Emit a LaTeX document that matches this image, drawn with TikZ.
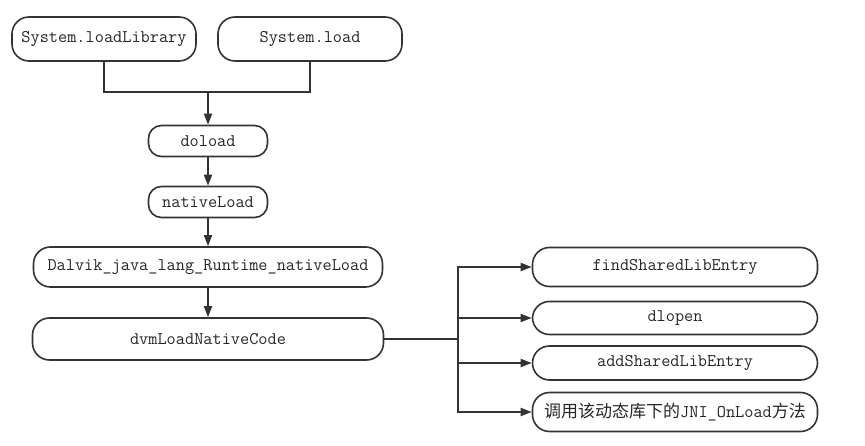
\documentclass[tikz,border=0pt]{standalone}
\usepackage{fontspec}
\newfontfamily\cjk{Noto Sans CJK SC}
\usetikzlibrary{arrows.meta, positioning}

\begin{document}
\begin{tikzpicture}[x=1pt, y=-1pt,
    box/.style={draw=black!80, line width=1.6pt, rounded corners=17pt, inner sep=0pt,
        text=black!85, font=\ttfamily\fontsize{17.8}{19}\selectfont},
    link/.style={draw=black!80, line width=1.8pt},
    arr/.style={link, -{Triangle[length=11pt, width=8pt]}}]
    \useasboundingbox (0,0) rectangle (865,446);

    % callers
    \node[box, minimum width=184pt, minimum height=44pt] (loadlib) at (104,39) {System.loadLibrary};
    \node[box, minimum width=184pt, minimum height=44pt] (load) at (310,39) {System.load};
    \coordinate (join) at (208,92);

    % main chain
    \node[box, minimum width=119pt, minimum height=31pt, rounded corners=13pt] (doload) at (208,141) {doload};
    \node[box, minimum width=119pt, minimum height=31pt, rounded corners=13pt] (natload) at (208,202) {nativeLoad};
    \node[box, minimum width=349pt, minimum height=40pt] (dalvik) at (208,267) {Dalvik\_java\_lang\_Runtime\_nativeLoad};
    \node[box, minimum width=351pt, minimum height=42pt] (dvm) at (208,339) {dvmLoadNativeCode};
    \coordinate (fork) at (458,339);

    % steps of dvmLoadNativeCode
    \foreach \y/\h/\name/\txt in {267/39/findlib/findSharedLibEntry, 318/33/dlopen/dlopen,
        363/34/addlib/addSharedLibEntry, 412/39/onload/{{\cjk\fontsize{17}{18}\selectfont 调用该动态库下的}JNI\_OnLoad{\cjk\fontsize{17}{18}\selectfont 方法}}} {
        \node[box, minimum width=285pt, minimum height=\h pt] (\name) at (675,\y) {\txt};
    }

    \draw[link] (loadlib.south) |- (join) -| (load.south);
    \draw[arr] (join) -- (doload.north);
    \draw[arr] (doload) -- (natload);
    \draw[arr] (natload) -- (dalvik);
    \draw[arr] (dalvik) -- (dvm);

    \draw[link] (dvm.east) -- (fork);
    \foreach \n in {findlib, dlopen, addlib, onload}
        \draw[arr] (fork) |- (\n.west);
\end{tikzpicture}
\end{document}
